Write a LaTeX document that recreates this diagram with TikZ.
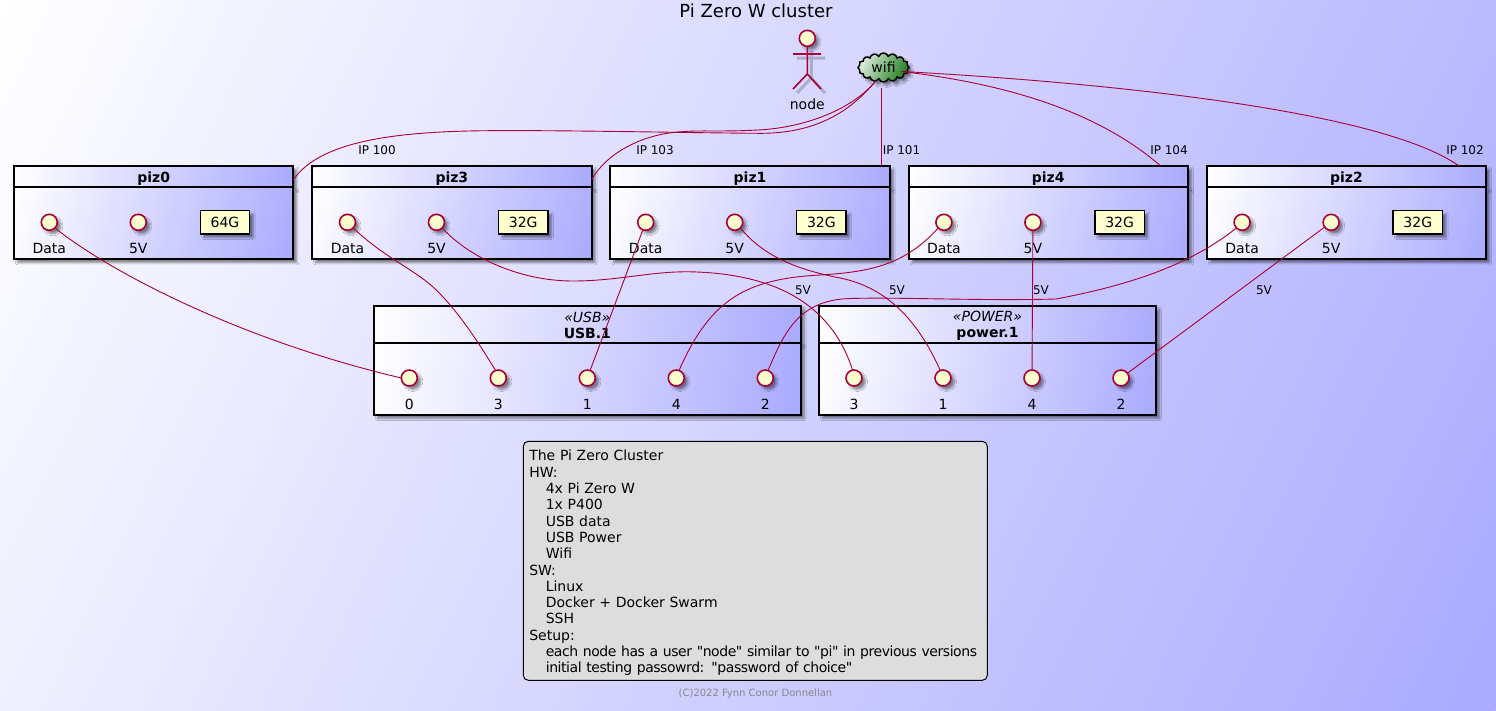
\documentclass[tikz,border=0pt]{standalone}
\usepackage{fontspec}
\setmainfont{DejaVu Sans}
\newfontfamily\legendfont{DejaVu Sans}
\usepackage{tikz}
\usetikzlibrary{calc,positioning,shapes.symbols,shadows.blur}

\definecolor{umlred}{HTML}{A80036}
\definecolor{umlcream}{HTML}{FEFECE}
\definecolor{umlblue}{HTML}{AAAAFF}
\definecolor{wifigreen}{HTML}{006E00}
\definecolor{legendgrey}{HTML}{DDDDDD}
\definecolor{footgrey}{HTML}{888888}

\tikzset{
 gradfill/.style 2 args={path picture={
  \path let \p1=(path picture bounding box.north west),\p2=(path picture bounding box.south east),\p3=(path picture bounding box.center) in
   \pgfextra{\pgfmathsetmacro\gradangle{atan2(\y2-\y1,\x2-\x1)}\pgfmathsetmacro\gradlen{veclen(\x2-\x1,\y2-\y1)}\pgfmathsetmacro\gradhalf{\gradlen/2}\xdef\gradangle{\gradangle}\xdef\gradlen{\gradlen}\xdef\gradhalf{\gradhalf}\xdef\gradcx{\x3}\xdef\gradcy{\y3}};
  \shade[transform canvas={rotate around={\gradangle:(path picture bounding box.center)}},left color=#1,right color=#2]
   ({\gradcx-\gradhalf pt},{\gradcy-\gradlen pt}) rectangle ({\gradcx+\gradhalf pt},{\gradcy+\gradlen pt});}},
 softshadow/.style={blur shadow={shadow xshift=3.5pt,shadow yshift=-3.5pt,shadow blur radius=2pt,shadow blur steps=6,shadow opacity=45}},
 head/.style={draw,line width=2pt,inner sep=0pt,outer sep=0pt,minimum height=21.6pt,align=center,font=\fontsize{14}{16}\selectfont\bfseries,softshadow,gradfill={white}{umlblue}},
 pizhead/.style={head,minimum width=279.3pt,text height=14.3pt,text depth=2.3pt},
 hubhead/.style={head,anchor=north west,minimum height=37pt},
 body/.style={draw,line width=2pt,inner sep=0pt,outer sep=0pt,minimum height=72pt,softshadow,gradfill={white}{umlblue}},
 port/.style={circle,draw=umlred,fill=umlcream,line width=1.6pt,inner sep=0pt,outer sep=0pt,minimum size=16pt,softshadow},
 portlabel/.style={inner sep=0pt,text height=10pt,text depth=0pt,font=\fontsize{14}{16}\selectfont},
 store/.style={draw,fill=umlcream,line width=1.5pt,inner sep=0pt,outer sep=0pt,minimum width=49.4pt,minimum height=23.3pt,font=\fontsize{14}{16}\selectfont,softshadow},
 link/.style={draw=umlred,line width=.9pt},
 linklabel/.style={inner sep=0pt,font=\fontsize{12}{14}\selectfont},
 actorline/.style={draw=umlred,line width=1.6pt}
}

\begin{document}
\begin{tikzpicture}[x=1pt,y=1pt,node distance=18.9pt]
\useasboundingbox (0,0) rectangle (1496,-710);
\node[anchor=north west,inner sep=0pt,outer sep=0pt,minimum width=1496pt,minimum height=710pt,gradfill={white}{umlblue}] (canvas) at (0,0) {};
\node[font=\fontsize{18}{20}\selectfont] (title) at (756,-11) {Pi Zero W cluster};

% actor
\node[circle,draw=umlred,fill=umlcream,line width=1.6pt,inner sep=0pt,outer sep=0pt,minimum size=16pt,softshadow] (actorhead) at (807.3,-38.3) {};
\draw[black,opacity=.2,line width=3pt,shift={(4,-4)}] (807.3,-46.3) -- (807.3,-74) -- (793,-89) (807.3,-74) -- (821,-89) (793,-54) -- (821,-54);
\draw[actorline] (actorhead.south) -- ++(0,-27.7) coordinate (hips) -- ++(-14.3,-15) (hips) -- ++(13.7,-15);
\draw[actorline] ([shift={(-14.3,-7.7)}]actorhead.south) -- ++(28,0);
\node[portlabel,below=25pt of hips] (actorlabel) {node};
\node[cloud,cloud puffs=16,cloud puff arc=140,aspect=1.75,draw,line width=1.5pt,inner sep=0pt,outer sep=0pt,minimum width=51pt,minimum height=29pt,softshadow,gradfill={white}{wifigreen},font=\fontsize{14}{16}\selectfont] (wifi) at (883.5,-67.5) {\raisebox{-2.5pt}{wifi}};

% node boxes
\node[pizhead,anchor=north west] (piz0head) at (14,-165.7) {piz0};
\node[pizhead,right=of piz0head] (piz3head) {piz3};
\node[pizhead,right=of piz3head] (piz1head) {piz1};
\node[pizhead,right=of piz1head] (piz4head) {piz4};
\node[pizhead,right=of piz4head] (piz2head) {piz2};
\node[body,below=0pt of piz0head,minimum width=279.3pt] (piz0body) {};
\node[body,below=0pt of piz3head,minimum width=279.3pt] (piz3body) {};
\node[body,below=0pt of piz1head,minimum width=279.3pt] (piz1body) {};
\node[body,below=0pt of piz4head,minimum width=279.3pt] (piz4body) {};
\node[body,below=0pt of piz2head,minimum width=279.3pt] (piz2body) {};

\node[port,right=27.3pt of piz0body.west,yshift=1pt] (piz0data) {};
\node[port,right=73pt of piz0data] (piz0power) {};
\node[store,right=54pt of piz0power] (piz0store) {64G};
\node[portlabel,below=13pt of piz0data] (piz0datatext) {Data};
\node[portlabel,below=13pt of piz0power] (piz0powertext) {5V};

\node[port,right=27.3pt of piz3body.west,yshift=1pt] (piz3data) {};
\node[port,right=73pt of piz3data] (piz3power) {};
\node[store,right=54pt of piz3power] (piz3store) {32G};
\node[portlabel,below=13pt of piz3data] (piz3datatext) {Data};
\node[portlabel,below=13pt of piz3power] (piz3powertext) {5V};

\node[port,right=27.3pt of piz1body.west,yshift=1pt] (piz1data) {};
\node[port,right=73pt of piz1data] (piz1power) {};
\node[store,right=54pt of piz1power] (piz1store) {32G};
\node[portlabel,below=13pt of piz1data] (piz1datatext) {Data};
\node[portlabel,below=13pt of piz1power] (piz1powertext) {5V};

\node[port,right=27.3pt of piz4body.west,yshift=1pt] (piz4data) {};
\node[port,right=73pt of piz4data] (piz4power) {};
\node[store,right=54pt of piz4power] (piz4store) {32G};
\node[portlabel,below=13pt of piz4data] (piz4datatext) {Data};
\node[portlabel,below=13pt of piz4power] (piz4powertext) {5V};

\node[port,right=27.3pt of piz2body.west,yshift=1pt] (piz2data) {};
\node[port,right=73pt of piz2data] (piz2power) {};
\node[store,right=54pt of piz2power] (piz2store) {32G};
\node[portlabel,below=13pt of piz2data] (piz2datatext) {Data};
\node[portlabel,below=13pt of piz2power] (piz2powertext) {5V};

% hubs
\node[hubhead,minimum width=426.7pt] (usbhead) at (374,-306) {\rule{0pt}{13pt}\textit{\textmd{«USB»}}\\USB.1};
\node[body,below=0pt of usbhead,minimum width=426.7pt] (usbbody) {};
\node[hubhead,minimum width=337pt] (powerhead) at (819,-306) {\rule{0pt}{13pt}\textit{\textmd{«POWER»}}\\power.1};
\node[body,below=0pt of powerhead,minimum width=337pt] (powerbody) {};

\node[port,right=27.3pt of usbbody.west,yshift=1pt] (usb0) {};
\node[port,right=73pt of usb0] (usb3) {};
\node[port,right=73pt of usb3] (usb1) {};
\node[port,right=73pt of usb1] (usb4) {};
\node[port,right=73pt of usb4] (usb2) {};
\node[portlabel,below=13pt of usb0] (usb0text) {0};
\node[portlabel,below=13pt of usb3] (usb3text) {3};
\node[portlabel,below=13pt of usb1] (usb1text) {1};
\node[portlabel,below=13pt of usb4] (usb4text) {4};
\node[portlabel,below=13pt of usb2] (usb2text) {2};

\node[port,right=27pt of powerbody.west,yshift=1pt] (power3) {};
\node[port,right=73pt of power3] (power1) {};
\node[port,right=73pt of power1] (power4) {};
\node[port,right=73pt of power4] (power2) {};
\node[portlabel,below=13pt of power3] (power3text) {3};
\node[portlabel,below=13pt of power1] (power1text) {1};
\node[portlabel,below=13pt of power4] (power4text) {4};
\node[portlabel,below=13pt of power2] (power2text) {2};

% wifi links
\draw[link] (wifi.240) .. controls (850,-112) and (815,-134) .. (758,-133.3) .. controls (700,-133) and (560,-130) .. (487,-130.7) .. controls (400,-131.5) and (320,-140) .. ([yshift=-3.5pt]piz0head.east);
\draw[link] (wifi.240) .. controls (850,-112) and (800,-128) .. (758,-130) .. controls (720,-132) and (700,-130) .. (682,-131.7) .. controls (640,-134) and (605,-155) .. ([yshift=-3.5pt]piz3head.east);
\draw[link] (wifi.south -| piz1head.north east) ++(-8,-6) -- ([xshift=-8pt]piz1head.north east);
\draw[link] ([shift={(18,-4)}]wifi.center) .. controls (990,-82) and (1090,-105) .. ([xshift=-27.5pt]piz4head.north east);
\draw[link] ([shift={(18,-4)}]wifi.center) .. controls (1100,-82) and (1380,-110) .. ([xshift=-27.5pt]piz2head.north east);
\node[linklabel] (ip100) at (377,-150.5) {IP 100};
\node[linklabel] (ip103) at (655,-150.5) {IP 103};
\node[linklabel] (ip101) at (901.5,-150.5) {IP 101};
\node[linklabel] (ip104) at (1169,-150.5) {IP 104};
\node[linklabel] (ip102) at (1465,-150.5) {IP 102};

% usb links
\draw[link] (piz0data.-45) .. controls (110,-272) and (240,-340) .. (usb0.west);
\draw[link] (piz3data.-45) .. controls (385,-258) and (412,-268) .. (433,-287) .. controls (458,-310) and (480,-345) .. (usb3.110);
\draw[link] (piz1data) -- (usb1);
\draw[link] (piz4data.-135) .. controls (905,-265) and (870,-272) .. (820,-275) .. controls (745,-279) and (710,-300) .. (usb4.70);
\draw[link] (piz2data.-135) .. controls (1190,-265) and (1130,-285) .. (1056,-299) .. controls (980,-301) and (900,-297) .. (850,-298.5) .. controls (800,-300) and (785,-330) .. (usb2.70);

% power links
\draw[link] (piz3power.-45) .. controls (470,-258) and (520,-281) .. (573,-281) .. controls (620,-281) and (655,-270) .. (697,-272) .. controls (770,-275) and (830,-300) .. (power3.100);
\draw[link] (piz1power.-45) .. controls (765,-258) and (800,-270) .. (840,-278) .. controls (890,-288) and (920,-325) .. (power1.110);
\draw[link] (piz4power) -- (power4);
\draw[link] (piz2power) -- (power2);
\node[linklabel] (usb5v3) at (803,-290.5) {5V};
\node[linklabel] (usb5v1) at (897,-290.5) {5V};
\node[linklabel] (usb5v4) at (1041,-290.5) {5V};
\node[linklabel] (usb5v2) at (1264,-290.5) {5V};

% legend and footer
\node[draw,rounded corners=5pt,fill=legendgrey,line width=1pt,inner sep=0pt,minimum width=464pt,minimum height=239pt,text width=452pt,align=left,font=\legendfont\fontsize{14}{16.3}\selectfont] (legend) at (755.3,-560.8) {\rule{0pt}{15pt}The Pi Zero Cluster\\
HW:\\
\hspace*{16.5pt}4x Pi Zero W\\
\hspace*{16.5pt}1x P400\\
\hspace*{16.5pt}USB data\\
\hspace*{16.5pt}USB Power\\
\hspace*{16.5pt}Wifi\\
SW:\\
\hspace*{16.5pt}Linux\\
\hspace*{16.5pt}Docker + Docker Swarm\\
\hspace*{16.5pt}SSH\\
Setup:\\
\hspace*{16.5pt}\mbox{\addfontfeature{LetterSpace=-3.2}each node has a user "node" similar to "pi" in previous versions}\\
\hspace*{16.5pt}\mbox{\addfontfeature{LetterSpace=-3.2}initial testing passowrd: "password of choice"}};
\node[text=footgrey,inner sep=0pt,font=\fontsize{10}{12}\selectfont] (footer) at (755.5,-694) {(C)2022 Fynn Conor Donnellan};
\end{tikzpicture}
\end{document}
